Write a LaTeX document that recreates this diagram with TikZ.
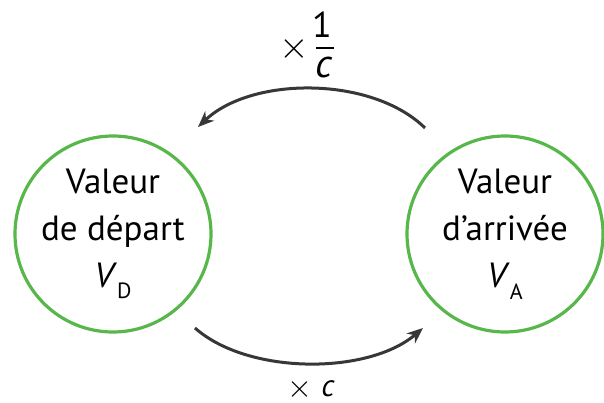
\documentclass[tikz,border=0pt]{standalone}
\usepackage{fontspec}
\usepackage{unicode-math}
\setmainfont{PT Sans}
\setmathfont{Latin Modern Math}
\usetikzlibrary{arrows.meta}
\definecolor{cgreen}{RGB}{88,183,75}
\definecolor{cgray}{RGB}{55,55,55}
\tikzset{
  valcirc/.style={circle, draw=cgreen, line width=3.2pt, minimum size=196pt, inner sep=0pt, align=center,
    font=\fontsize{35}{47}\selectfont},
  arr/.style={draw=cgray, line width=3pt, -{Stealth[length=16pt,width=13pt,inset=5pt]}},
  lbl/.style={inner sep=0pt, text=black},
}
\newcommand{\sub}[1]{\raisebox{-0.33em}{\fontsize{22}{22}\selectfont #1}}
\begin{document}
\begin{tikzpicture}[x=1pt,y=-1pt]
\useasboundingbox (0,0) rectangle (604,403);
\node[valcirc] (D) at (113,234) {Valeur\\de départ\\\textit{V}\sub{D}};
\node[valcirc] (A) at (505,234) {Valeur\\d’arrivée\\\textit{V}\sub{A}};
\coordinate (t1) at (425,128);
\coordinate (t2) at (198,127);
\coordinate (b1) at (195,328);
\coordinate (b2) at (423,328);
\draw[arr] (t1) .. controls (372,76) and (252,76) .. (t2);
\draw[arr] (b1) .. controls (248,375) and (368,375) .. (b2);
% top label
\node[lbl, font=\fontsize{38}{38}\selectfont] (tx) at (294,49) {\(\times\)};
\node[lbl, anchor=base, font=\fontsize{36}{36}\selectfont] (one) at (322,38) {1};
\coordinate (bar1) at (316,48);
\coordinate (bar2) at (334,48);
\draw[line width=2.6pt] (bar1) -- (bar2);
\node[lbl, anchor=base, font=\fontsize{40}{40}\selectfont] (cc) at (324,78) {\textit{c}};
% bottom label
\node[lbl, font=\fontsize{32}{32}\selectfont] (bx) at (300,390) {\(\times\)};
\node[lbl, anchor=base, font=\fontsize{31}{31}\selectfont] (bc) at (328,396) {\textit{c}};
\end{tikzpicture}
\end{document}
